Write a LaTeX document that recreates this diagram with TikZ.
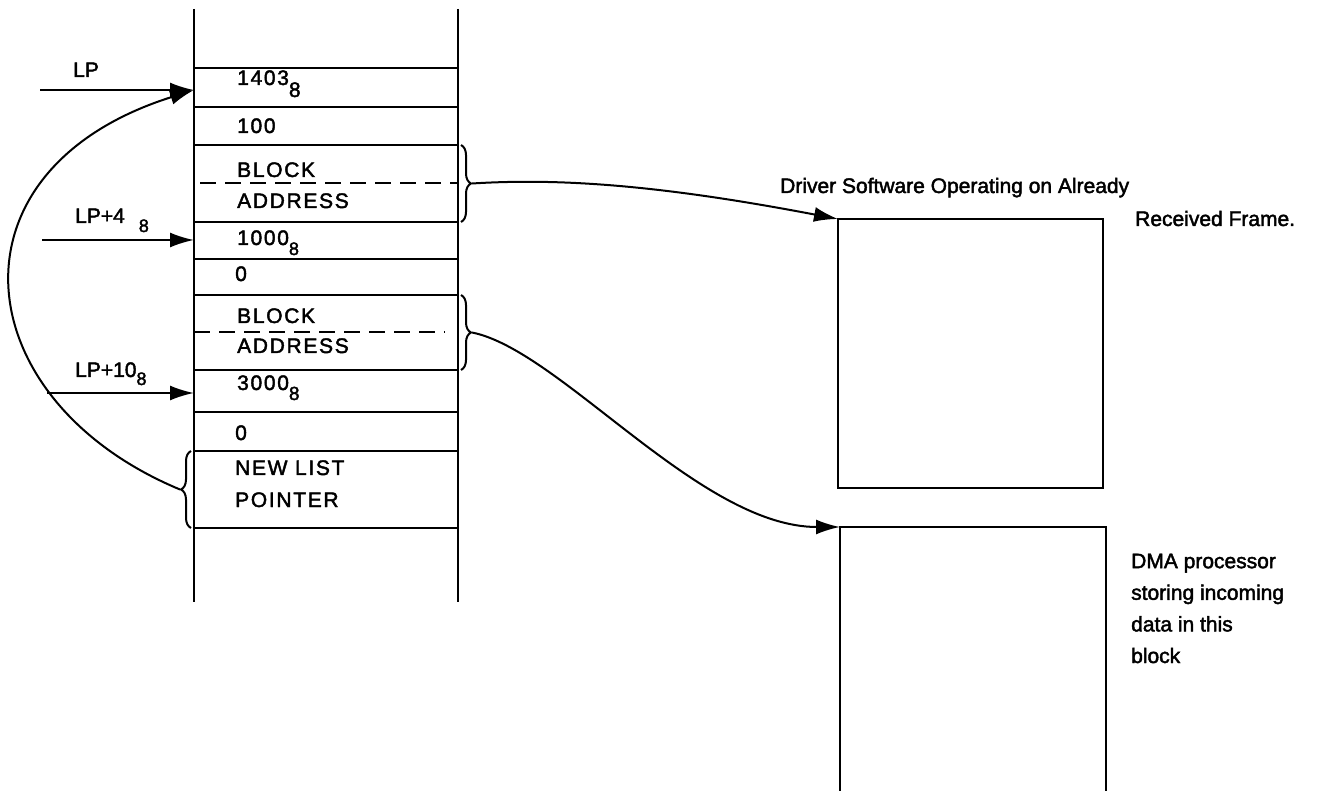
\documentclass[tikz,border=0pt]{standalone}
\usepackage{fontspec}
\setmainfont{Liberation Sans}[FakeBold=2]
\newfontfamily\cellfont{Liberation Sans}[LetterSpace=8,FakeBold=2]
\usetikzlibrary{arrows.meta,decorations.pathreplacing,calc}
\newcommand\sbe[2]{\raisebox{-#1pt}{#2}}
\begin{document}
\begin{tikzpicture}[x=1pt,y=-1pt,
  ln/.style={line width=2.4pt},
  cell/.style={draw, line width=2.4pt, minimum width=264, inner sep=0, outer sep=0},
  ctext/.style={anchor=base west, inner sep=0, font=\cellfont\fontsize{21}{25}\selectfont},
  ltext/.style={anchor=base west, inner sep=0, font=\fontsize{21}{25}\selectfont},
  rtext/.style={anchor=base west, inner sep=0, align=left, font=\fontsize{21}{31.6}\selectfont},
  arr/.style={line width=2pt, -{Latex[length=24pt,width=15pt]}},
  brc/.style={line width=2pt, decorate, decoration={brace, amplitude=10pt, raise=3pt}},
  dsh/.style={line width=2pt, dash pattern=on 16pt off 9pt},
  blk/.style={draw, line width=2.8pt, inner sep=0, outer sep=0}]
\path[use as bounding box] (0,0) rectangle (1331,791);

% memory cells
\node[cell, minimum height=39] (r1) at (326,87.5) {};
\node[cell, minimum height=38] (r2) at (326,126) {};
\node[cell, minimum height=77] (r3) at (326,183.5) {};
\node[cell, minimum height=37] (r4) at (326,240.5) {};
\node[cell, minimum height=36] (r5) at (326,277) {};
\node[cell, minimum height=75] (r6) at (326,332.5) {};
\node[cell, minimum height=42] (r7) at (326,391) {};
\node[cell, minimum height=39] (r8) at (326,431.5) {};
\node[cell, minimum height=77] (r9) at (326,489.5) {};

% column walls
\draw[ln] (194,9) -- (194,602);
\draw[ln] (458,9) -- (458,602);

% dashed separators
\draw[dsh] ($(r3.west)+(6,0)$) -- (r3.east);
\draw[dsh] (r6.west) -- ($(r6.east)+(-13,0)$);

% cell texts
\node[ctext] (t1) at (237,85) {1403\sbe{12}{8}};
\node[ctext] (t2) at (237,133) {100};
\node[ctext] (t3a) at (237,177) {BLOCK};
\node[ctext] (t3b) at (237,208) {ADDRESS};
\node[ctext] (t4) at (237,245) {1000\sbe{10}{\fontsize{18}{18}\selectfont 8}};
\node[ctext] (t5) at (235,281) {0};
\node[ctext] (t6a) at (237,323) {BLOCK};
\node[ctext] (t6b) at (237,353) {ADDRESS};
\node[ctext] (t7) at (237,390) {3000\sbe{10}{\fontsize{19}{19}\selectfont 8}};
\node[ctext] (t8) at (235,440) {0};
\node[ctext] (t9a) at (235,475) {NEW LIST};
\node[ctext] (t9b) at (235,507) {POINTER};

% pointer labels
\node[ltext] (lp1) at (73,77) {LP};
\node[ltext] (lp2) at (75,223) {LP+4\hspace{14pt}\sbe{9}{\fontsize{18}{18}\selectfont 8}};
\node[ltext] (lp3) at (75,377) {LP+10\sbe{8}{\fontsize{18}{18}\selectfont 8}};

\coordinate (s1) at (40,90);
\coordinate (s2) at (42,240);
\coordinate (s3) at (47,393);
\draw[arr] (s1) -- (s1 -| r1.west);
\draw[arr] (s2) -- (s2 -| r4.west);
\draw[arr] (s3) -- (s3 -| r7.west);

% braces
\draw[brc] (r3.north east) -- (r3.south east);
\coordinate (b1) at ($(r3.east)+(14,0)$);
\draw[brc] (r6.north east) -- (r6.south east);
\coordinate (b2) at ($(r6.east)+(14,0)$);
\draw[brc] (r9.south west) -- (r9.north west);
\coordinate (b3) at ($(r9.west)+(-14,0)$);

% blocks
\node[blk, minimum width=265, minimum height=269] (box1) at (970.5,353.5) {};
\node[inner sep=0, outer sep=0, minimum width=266, minimum height=264] (box2) at (973,659) {};
\draw[line width=2.8pt] (box2.south west) -- (box2.north west) -- (box2.north east) -- (box2.south east);

% connectors
\draw[arr] (b1) .. controls (560,178) and (660,185) .. (box1.north west);
\draw[arr] (b2) .. controls (560,350) and (700,527) .. (box2.north west);
\draw[arr] (b3) .. controls (-35,400) and (-60,170) .. (s1 -| r1.west);

% right texts
\node[ltext] (d1) at (780,193) {Driver Software Operating on Already};
\node[ltext] (d2) at (1135,226) {Received Frame.};
\node[rtext] (d3) at (1131,663) {DMA processor\\storing incoming\\data in this\\block};
\end{tikzpicture}
\end{document}
